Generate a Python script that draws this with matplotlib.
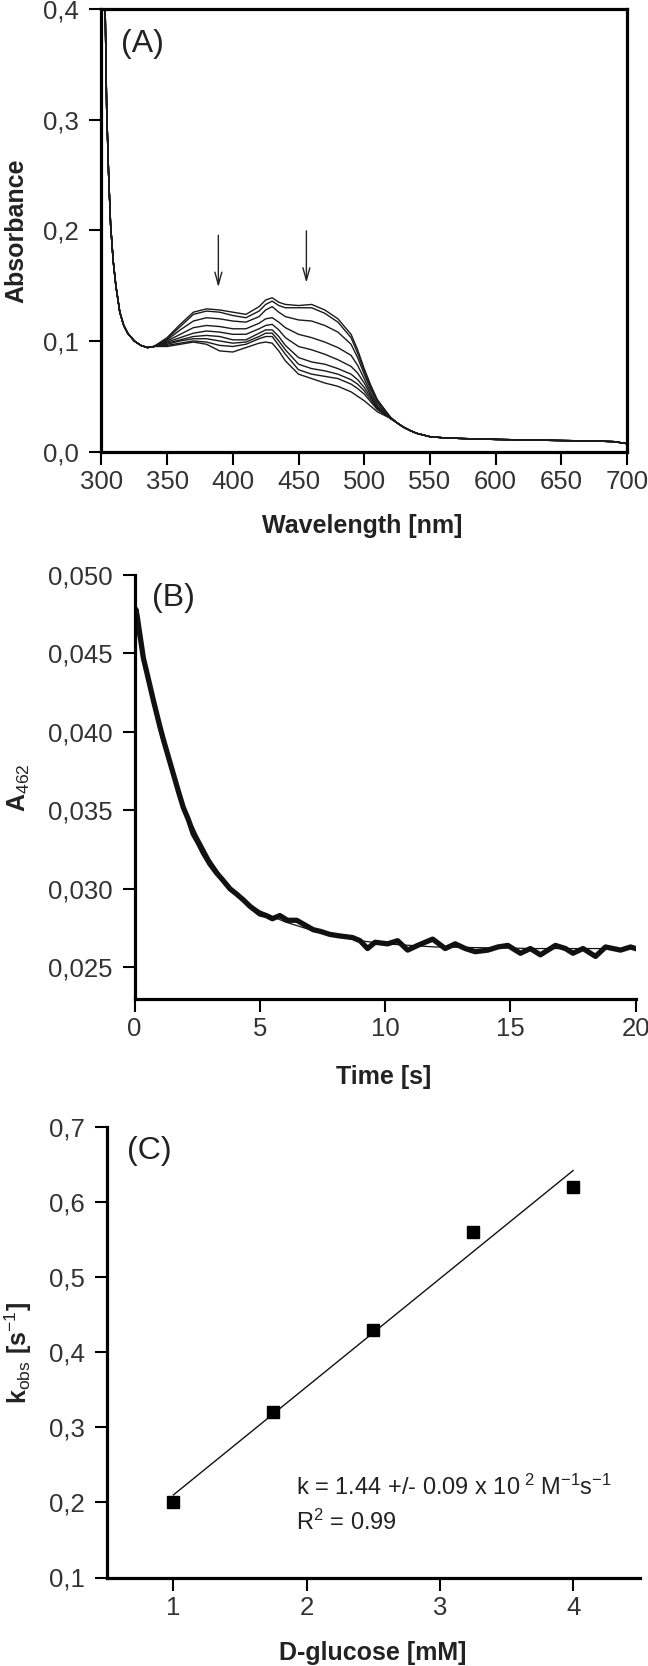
import matplotlib
matplotlib.use('Agg')
import matplotlib.pyplot as plt
import numpy as np

plt.rcParams['font.family'] = 'Liberation Sans'
plt.rcParams['mathtext.fontset'] = 'custom'
plt.rcParams['mathtext.rm'] = 'Liberation Sans'
plt.rcParams['mathtext.it'] = 'Liberation Sans:italic'
plt.rcParams['mathtext.bf'] = 'Liberation Sans:bold'

# ---- panel A : spectra ----
wl_start = [302, 303, 304, 305.5, 307, 309, 311, 314, 317, 320, 325, 330, 335]
abs_start = [0.45, 0.39, 0.31, 0.25, 0.205, 0.172, 0.150, 0.126, 0.114, 0.107, 0.100, 0.096, 0.094]

wl_mid = [340, 350, 360, 370, 380, 390, 400, 410, 420, 425, 430, 435, 440, 450, 460, 470, 480, 490, 495, 500, 505, 510, 520]
abs_1 = [0.095, 0.103, 0.115, 0.126, 0.129, 0.128, 0.126, 0.124, 0.131, 0.137, 0.139, 0.135, 0.133, 0.132, 0.133, 0.128, 0.120, 0.106, 0.092, 0.075, 0.060, 0.047, 0.031]
abs_2 = [0.095, 0.102, 0.113, 0.124, 0.127, 0.126, 0.123, 0.121, 0.127, 0.133, 0.136, 0.132, 0.130, 0.130, 0.130, 0.125, 0.117, 0.103, 0.089, 0.073, 0.058, 0.046, 0.031]
abs_3 = [0.095, 0.101, 0.110, 0.118, 0.121, 0.120, 0.118, 0.117, 0.122, 0.128, 0.131, 0.126, 0.122, 0.119, 0.118, 0.114, 0.108, 0.097, 0.085, 0.070, 0.056, 0.045, 0.031]
abs_4 = [0.095, 0.100, 0.106, 0.112, 0.114, 0.113, 0.111, 0.111, 0.116, 0.120, 0.121, 0.117, 0.112, 0.106, 0.103, 0.099, 0.094, 0.087, 0.078, 0.066, 0.053, 0.043, 0.030]
abs_5 = [0.095, 0.099, 0.103, 0.107, 0.109, 0.108, 0.106, 0.106, 0.111, 0.114, 0.115, 0.110, 0.103, 0.095, 0.092, 0.088, 0.083, 0.077, 0.071, 0.062, 0.051, 0.041, 0.030]
abs_6 = [0.095, 0.098, 0.101, 0.104, 0.105, 0.104, 0.101, 0.101, 0.107, 0.110, 0.110, 0.104, 0.096, 0.085, 0.081, 0.079, 0.075, 0.070, 0.065, 0.058, 0.049, 0.040, 0.030]
abs_7 = [0.095, 0.097, 0.100, 0.102, 0.102, 0.100, 0.098, 0.099, 0.104, 0.107, 0.107, 0.100, 0.092, 0.079, 0.075, 0.073, 0.070, 0.065, 0.061, 0.055, 0.047, 0.039, 0.030]
abs_8 = [0.095, 0.096, 0.098, 0.100, 0.099, 0.096, 0.095, 0.097, 0.102, 0.104, 0.104, 0.096, 0.088, 0.074, 0.070, 0.068, 0.066, 0.061, 0.057, 0.052, 0.045, 0.038, 0.030]
abs_9 = [0.095, 0.095, 0.097, 0.099, 0.097, 0.091, 0.090, 0.094, 0.098, 0.099, 0.098, 0.091, 0.082, 0.070, 0.066, 0.062, 0.059, 0.054, 0.050, 0.046, 0.041, 0.036, 0.030]

wl_tail = [525, 530, 535, 540, 550, 560, 575, 600, 625, 650, 675, 690, 700]
abs_tail = [0.026, 0.022, 0.019, 0.0165, 0.0135, 0.0125, 0.0118, 0.011, 0.0105, 0.0100, 0.0096, 0.0090, 0.0072]

arrow_wl = [389, 456]
arrow_top = [0.198, 0.202]
arrow_bottom = [0.146, 0.150]

# ---- panel B : kinetic trace at 462 nm ----
trace_t = [0.0, 0.05, 0.1, 0.2, 0.35, 0.5, 0.75, 1.0, 1.15, 1.35, 1.55, 1.75, 1.94, 2.15, 2.34, 2.55,
           2.74, 3.0, 3.28, 3.5, 3.81, 4.05, 4.34, 4.6, 5.0, 5.25, 5.5, 5.8, 6.1, 6.47, 6.8, 7.13,
           7.4, 7.8, 8.2, 8.7, 9.0, 9.3, 9.6, 10.1, 10.5, 10.9, 11.3, 11.9, 12.4, 12.8, 13.2, 13.6,
           14.1, 14.5, 14.9, 15.4, 15.8, 16.2, 16.8, 17.2, 17.5, 17.9, 18.4, 18.8, 19.4, 19.8, 20.0]
trace_a = [0.0462, 0.0478, 0.0474, 0.0463, 0.0447, 0.0437, 0.0420, 0.0404, 0.0395, 0.0384, 0.0373,
           0.0362, 0.0352, 0.0344, 0.0335, 0.0329, 0.0323, 0.0316, 0.0310, 0.0306, 0.0300, 0.0297,
           0.0293, 0.0289, 0.0284, 0.0283, 0.0281, 0.0283, 0.0280, 0.0280, 0.0277, 0.0274, 0.0273,
           0.0271, 0.0270, 0.0269, 0.0267, 0.0262, 0.0266, 0.0265, 0.0267, 0.0261, 0.0264, 0.0268,
           0.0262, 0.0265, 0.0262, 0.0260, 0.0261, 0.0263, 0.0264, 0.0259, 0.0262, 0.0258, 0.0264,
           0.0262, 0.0259, 0.0262, 0.0257, 0.0263, 0.0261, 0.0263, 0.0262]
fit_t = [0, 0.5, 1, 1.5, 2, 2.5, 3, 3.5, 4, 4.5, 5, 6, 7, 8, 9, 10, 12, 14, 16, 18, 20]
fit_a = [0.0476, 0.0433, 0.0400, 0.0375, 0.0351, 0.0334, 0.0319, 0.0307, 0.0298, 0.0291, 0.0286,
         0.0279, 0.0274, 0.0270, 0.0267, 0.0265, 0.0263, 0.02625, 0.0262, 0.0262, 0.0262]

# ---- panel C : k_obs vs glucose ----
glucose = [1.0, 1.75, 2.5, 3.25, 4.0]
kobs = [0.20, 0.32, 0.43, 0.56, 0.62]

tick_col = '#333333'
fs = 18.5

fig = plt.figure(figsize=(6.48, 16.66), dpi=100)
W, H = 648.0, 1666.0

def make_axes(l, t, r, b):
    return fig.add_axes([l / W, 1 - b / H, (r - l) / W, (b - t) / H])

def style(ax):
    ax.tick_params(direction='out', length=9, width=1.5, labelsize=fs, labelcolor=tick_col)
    ax.tick_params(axis='y', pad=7)
    ax.tick_params(axis='x', pad=4)
    for s in ax.spines.values():
        s.set_linewidth(2.3)

def comma(fmt):
    return lambda v, p: (fmt % v).replace('.', ',')

# A
axA = make_axes(101.4, 9, 627, 451.6)
for curve in [abs_1, abs_2, abs_3, abs_4, abs_5, abs_6, abs_7, abs_8, abs_9]:
    axA.plot(wl_start + wl_mid + wl_tail, abs_start + curve + abs_tail, color='#1a1a1a', lw=1.0)
for i in range(len(arrow_wl)):
    axA.annotate('', xy=(arrow_wl[i], arrow_bottom[i]), xytext=(arrow_wl[i], arrow_top[i]),
                 arrowprops=dict(arrowstyle='->,head_length=0.9,head_width=0.25', color='#222222', lw=1.0))
axA.set_xlim(300, 700)
axA.set_ylim(0, 0.4)
axA.set_xticks(np.arange(300, 701, 50))
axA.set_yticks([0, 0.1, 0.2, 0.3, 0.4])
axA.yaxis.set_major_formatter(matplotlib.ticker.FuncFormatter(comma('%.1f')))
style(axA)
axA.text(0.037, 0.922, '(A)', transform=axA.transAxes, fontsize=23, va='center', ha='left', color='#222222')

# B
axB = make_axes(134.6, 574.8, 635.6, 998.8)
axB.plot(trace_t, trace_a, color='#111111', lw=3.8, solid_joinstyle='round')
axB.plot(fit_t, fit_a, color='#111111', lw=0.9)
axB.set_xlim(0, 20)
axB.set_ylim(0.023, 0.050)
axB.set_xticks([0, 5, 10, 15, 20])
axB.set_yticks([0.025, 0.030, 0.035, 0.040, 0.045, 0.050])
axB.yaxis.set_major_formatter(matplotlib.ticker.FuncFormatter(comma('%.3f')))
axB.spines['top'].set_visible(False)
axB.spines['right'].set_visible(False)
style(axB)
axB.text(0.035, 0.945, '(B)', transform=axB.transAxes, fontsize=23, va='center', ha='left', color='#222222')

# C
axC = make_axes(106.8, 1127, 639.7, 1577.5)
slope, icpt = np.polyfit(glucose, kobs, 1)
axC.plot([glucose[0], glucose[-1]], [slope * glucose[0] + icpt, slope * glucose[-1] + icpt], color='#111111', lw=1.0)
axC.plot(glucose, kobs, 's', color='black', ms=9)
axC.set_xlim(0.5, 4.5)
axC.set_ylim(0.1, 0.7)
axC.set_xticks([1, 2, 3, 4])
axC.set_yticks([0.1, 0.2, 0.3, 0.4, 0.5, 0.6, 0.7])
axC.yaxis.set_major_formatter(matplotlib.ticker.FuncFormatter(comma('%.1f')))
axC.spines['top'].set_visible(False)
axC.spines['right'].set_visible(False)
style(axC)
axC.text(0.038, 0.947, '(C)', transform=axC.transAxes, fontsize=23, va='center', ha='left', color='#222222')
axC.text(1.92, 0.21, r'k = 1.44 +/- 0.09 x 10$^{\ 2}$ M$^{-1}$s$^{-1}$', fontsize=17, color='#222222', va='baseline')
axC.text(1.92, 0.163, r'R$^{2}$ = 0.99', fontsize=17, color='#222222', va='baseline')

# axis labels
lab = dict(fontsize=18, fontweight='bold', color='#222222', ha='center', va='center')
fig.text(362 / W, 1 - 526 / H, 'Wavelength [nm]', **lab)
fig.text(16.6 / W, 1 - 231 / H, 'Absorbance', rotation=90, **lab)
fig.text(384 / W, 1 - 1076.7 / H, 'Time [s]', **lab)
fig.text(18.6 / W, 1 - 788 / H, r'A$_{462}$', rotation=90, **lab)
fig.text(372.6 / W, 1 - 1652.6 / H, 'D-glucose [mM]', **lab)
fig.text(18.6 / W, 1 - 1353 / H, r'k$_{\mathrm{obs}}$ [s$^{-1}$]', rotation=90, **lab)

plt.savefig('out.png', dpi=100)
